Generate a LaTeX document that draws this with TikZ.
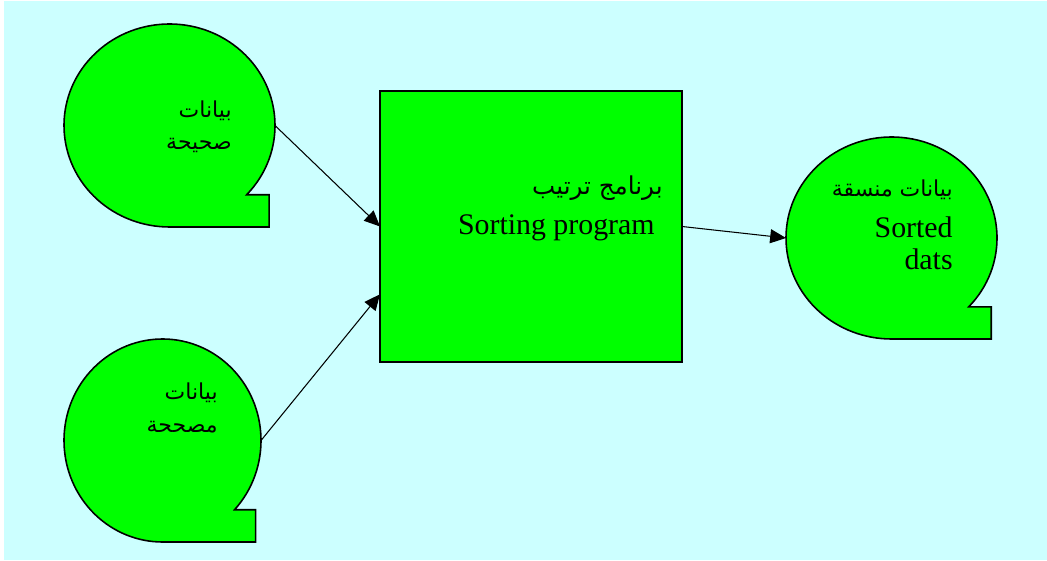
\documentclass[tikz,border=0pt]{standalone}
\usepackage{xcolor}
\usepackage{fontspec}
\setmainfont{Liberation Serif}
\newfontfamily\arabicfont[Script=Arabic]{DejaVu Sans}
\TeXXeTstate=1
\usepackage{tikz}
\usetikzlibrary{shapes.geometric, arrows.meta, calc}

\definecolor{bgcyan}{HTML}{CCFFFF}
\definecolor{tapegreen}{HTML}{00FF00}

% arabic line, right to left
\newcommand{\artext}[2][12.5]{{\arabicfont\fontsize{#1}{18.7}\selectfont\beginR #2\endR}}
% tape symbol: centre, x radius, y radius
\newcommand{\tapeoutline}[3]{%
  \draw[tape] (#1) ++(-43:#2 and #3)
    arc[start angle=-43, end angle=270, x radius=#2, y radius=#3]
    -- ++({0.945*#2},0) -- ++(0,{0.318*#3}) -- cycle;}

\begin{document}
\begin{tikzpicture}[
  tape/.style={draw, fill=tapegreen, line width=0.9pt},
  spot/.style={ellipse, inner sep=0pt, outer sep=0pt},
  box/.style={rectangle, draw, fill=tapegreen, line width=1.1pt, minimum width=6.04cm, minimum height=5.42cm, outer sep=0pt},
  arrow/.style={-{Triangle[length=9pt, width=8pt]}, line width=0.6pt},
  label/.style={anchor=base east, align=right, inner sep=0pt, font=\fontsize{17}{18.7}\selectfont}
]
  \useasboundingbox (0,0) rectangle (20.94,11.2);
  \fill[white] (0,0) rectangle (20.94,11.2);
  \fill[bgcyan] (0.08,0) rectangle (20.94,11.18);

  % input tapes
  \tapeoutline{3.39,8.69}{2.11}{2.03}
  \node[spot, minimum width=4.22cm, minimum height=4.06cm] (valid) at (3.39,8.69) {};
  \node[label] (validtxt) at (4.64,8.20) {\artext{بيانات}\\\artext{صحيحة}};

  \tapeoutline{3.25,2.39}{1.97}{2.03}
  \node[spot, minimum width=3.94cm, minimum height=4.06cm] (fixed) at (3.25,2.39) {};
  \node[label] (fixedtxt) at (4.36,2.56) {\artext{بيانات}\\\artext{مصححة}};

  % program
  \node[box] (prog) at (10.62,6.67) {};
  \node[label] (progtxt) at (13.26,6.50) {\artext[14]{برنامج ترتيب}\\[4.3pt]Sorting program\hspace*{0.16cm}};

  % output tape
  \tapeoutline{17.83,6.44}{2.11}{2.02}
  \node[spot, minimum width=4.22cm, minimum height=4.04cm] (sorted) at (17.83,6.44) {};
  \node[label] (sortedtxt) at (19.06,5.80) {\artext{بيانات منسقة}\\[4.7pt]Sorted\\dats};

  \draw[arrow] (valid.east) -- (prog.west);
  \draw[arrow] (fixed.east) -- ($(prog.west)!0.5!(prog.south west)$);
  \draw[arrow] (prog.east) -- (sorted.west);
\end{tikzpicture}
\end{document}
